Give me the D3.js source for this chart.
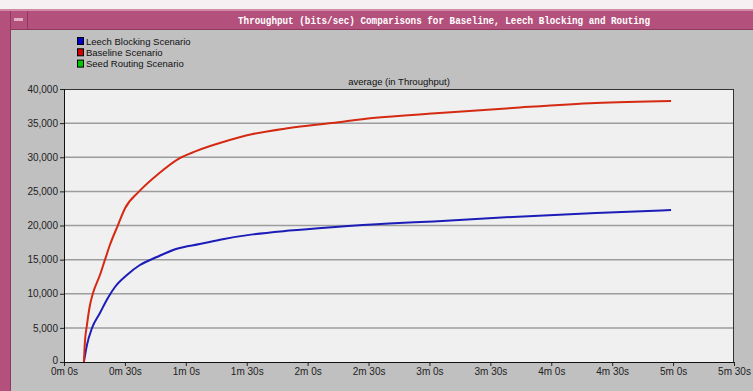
<!DOCTYPE html>
<html>
<head>
<meta charset="utf-8">
<script src="https://cdn.jsdelivr.net/npm/d3@7"></script>
<style>
    body { margin: 0; background: #c0c0c0; }
    svg { display: block; }
    .tick text { font-family: "Liberation Sans", Arial, sans-serif; font-size: 10px; fill: #222; }
</style>
</head>
<body>
<script>
// time in seconds, throughput in bits/sec
var baselineTime  = [9.8, 10.3, 11.3, 12.8, 14.3, 17.7, 20.2, 22.6, 26.6, 30, 37, 47, 56, 65, 78, 93, 111, 132, 152, 185, 221, 262, 299];
var baselineValue = [0, 2930, 5420, 8350, 10100, 12750, 15000, 17140, 20070, 22500, 25000, 27700, 29700, 30900, 32200, 33400, 34280, 35010, 35750, 36480, 37220, 37950, 38240];

var leechTime  = [9.8, 11.3, 13.8, 17.7, 21.6, 25.1, 31, 37.4, 45.7, 55.6, 66.9, 78.2, 93, 111, 132, 160, 182, 221, 262, 299];
var leechValue = [0, 2490, 4980, 7180, 9380, 10990, 12750, 14210, 15380, 16600, 17290, 18000, 18700, 19250, 19750, 20300, 20600, 21250, 21830, 22270];

var legendNames  = ["Leech Blocking Scenario", "Baseline Scenario", "Seed Routing Scenario"];
var legendColors = ["#0000c8", "#d00000", "#00c800"];

var yTicks = [0, 5000, 10000, 15000, 20000, 25000, 30000, 35000, 40000];
var xTicks = [0, 30, 60, 90, 120, 150, 180, 210, 240, 270, 300, 330];

var W = 753, H = 391;
var plot = {left: 64, right: 734, top: 89, bottom: 362};

var svg = d3.select("body").append("svg")
    .attr("width", W)
    .attr("height", H);

// window frame
svg.append("rect").attr("x", 0).attr("y", 0).attr("width", W).attr("height", H).attr("fill", "#f6f0f3");
svg.append("rect").attr("x", 0).attr("y", 9).attr("width", W).attr("height", H - 9).attr("fill", "#b4507c");
svg.append("rect").attr("x", 0).attr("y", 9).attr("width", W).attr("height", 2).attr("fill", "#d28aa8");
svg.append("rect").attr("x", 10).attr("y", 30).attr("width", W - 10).attr("height", H - 30).attr("fill", "#c0c0c0");
svg.append("line").attr("x1", 10.5).attr("x2", 10.5).attr("y1", 11).attr("y2", H).attr("stroke", "#8e3a5e");
svg.append("line").attr("x1", 10).attr("x2", W).attr("y1", 29.5).attr("y2", 29.5).attr("stroke", "#8e3a5e");
svg.append("line").attr("x1", 27.5).attr("x2", 27.5).attr("y1", 11).attr("y2", 29).attr("stroke", "#8e3a5e");
svg.append("rect").attr("x", 14).attr("y", 18).attr("width", 9).attr("height", 3).attr("fill", "#e0b0c4");

svg.append("text")
    .attr("x", 444).attr("y", 24)
    .attr("text-anchor", "middle")
    .attr("textLength", 412)
    .attr("lengthAdjust", "spacingAndGlyphs")
    .style("font-family", "'Liberation Mono', 'DejaVu Sans Mono', monospace")
    .style("font-size", "10.5px")
    .style("font-weight", "bold")
    .attr("fill", "#fff")
    .text("Throughput (bits/sec) Comparisons for Baseline, Leech Blocking and Routing");

// legend
var legend = svg.append("g").attr("transform", "translate(77,37)");
legendNames.forEach(function (name, i) {
    legend.append("rect")
        .attr("x", 0.5).attr("y", i * 11.3 + 0.5)
        .attr("width", 6).attr("height", 7)
        .attr("fill", legendColors[i])
        .attr("stroke", "#000");
    legend.append("text")
        .attr("x", 9).attr("y", i * 11.3 + 7.5)
        .style("font-family", "'Liberation Sans', Arial, sans-serif")
        .style("font-size", "9.5px")
        .attr("fill", "#111")
        .text(name);
});

// plot area
svg.append("rect")
    .attr("x", plot.left).attr("y", plot.top)
    .attr("width", plot.right - plot.left).attr("height", plot.bottom - plot.top)
    .attr("fill", "#f0f0f0");

svg.append("text")
    .attr("x", 399).attr("y", 85)
    .attr("text-anchor", "middle")
    .style("font-family", "'Liberation Sans', Arial, sans-serif")
    .style("font-size", "9.5px")
    .attr("fill", "#111")
    .text("average (in Throughput)");

var x = d3.scaleLinear().domain([0, 330]).range([plot.left, plot.right]);
var y = d3.scaleLinear().domain([0, 40000]).range([plot.bottom, plot.top]);

// horizontal grid
svg.append("g")
    .selectAll("line")
    .data(yTicks.filter(function (d) { return d > 0 && d < 40000; }))
    .enter().append("line")
    .attr("x1", plot.left).attr("x2", plot.right)
    .attr("y1", function (d) { return y(d); })
    .attr("y2", function (d) { return y(d); })
    .attr("stroke", "#9c9c9c")
    .attr("stroke-width", 1.5);

function fmtTime(s) {
    return Math.floor(s / 60) + "m " + (s % 60) + "s";
}

svg.append("g")
    .attr("transform", "translate(" + plot.left + ",0)")
    .call(d3.axisLeft(y).tickValues(yTicks).tickSize(4).tickPadding(2).tickFormat(d3.format(",")))
    .selectAll(".tick text")
    .attr("dy", function (d) { return d === 0 ? "0.1em" : "0.32em"; });

svg.append("g")
    .attr("transform", "translate(0," + plot.bottom + ")")
    .call(d3.axisBottom(x).tickValues(xTicks).tickSize(4).tickPadding(2).tickFormat(fmtTime));

svg.selectAll(".domain").remove();
svg.selectAll(".tick line").attr("stroke", "#222");

// frame
svg.append("rect")
    .attr("x", plot.left + 0.5).attr("y", plot.top + 0.5)
    .attr("width", plot.right - plot.left - 1).attr("height", plot.bottom - plot.top)
    .attr("fill", "none")
    .attr("stroke", "#333");
svg.append("line")
    .attr("x1", plot.left).attr("x2", plot.right)
    .attr("y1", plot.bottom + 0.5).attr("y2", plot.bottom + 0.5)
    .attr("stroke", "#111");
svg.append("line")
    .attr("x1", plot.left + 0.5).attr("x2", plot.left + 0.5)
    .attr("y1", plot.top).attr("y2", plot.bottom)
    .attr("stroke", "#111");

var line = d3.line()
    .x(function (d) { return x(d[0]); })
    .y(function (d) { return y(d[1]); })
    .curve(d3.curveMonotoneX);

svg.append("path")
    .datum(d3.zip(leechTime, leechValue))
    .attr("d", line)
    .attr("fill", "none")
    .attr("stroke", "#1c1cb8")
    .attr("stroke-width", 2);

svg.append("path")
    .datum(d3.zip(baselineTime, baselineValue))
    .attr("d", line)
    .attr("fill", "none")
    .attr("stroke", "#d42a12")
    .attr("stroke-width", 2);
</script>
</body>
</html>
